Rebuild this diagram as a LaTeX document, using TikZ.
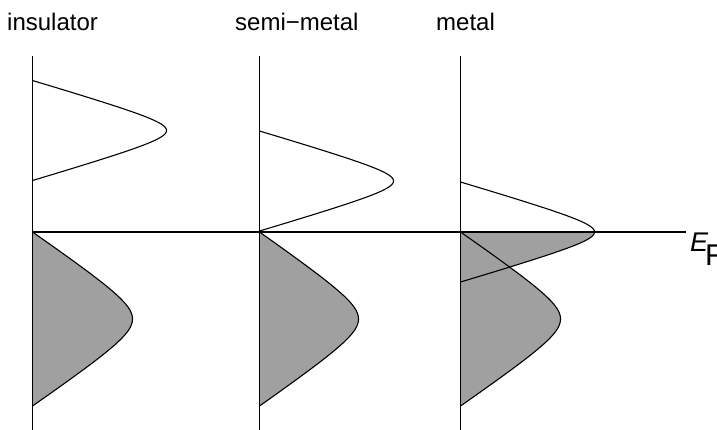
\documentclass[tikz,border=0pt]{standalone}
\usepackage{fontspec}
\setmainfont{Liberation Sans}
\definecolor{bandgray}{RGB}{160,160,160}
% hyperbola-shaped band: nearly straight flanks, rounded tip
\newcommand{\bandplot}[5]{plot[domain=#5,samples=121,variable=\t] ({#1+#4*(1-(sqrt(\t*\t+0.0625)-0.25)/0.78078)},{#2+#3*\t})}
\tikzset{
  axisline/.style={line width=1.1pt, black},
  bandline/.style={line width=1.1pt, black, line join=round},
  bandfill/.style={fill=bandgray},
  lbl/.style={anchor=base west, inner sep=0pt, font=\fontsize{24}{28}\selectfont},
}
\begin{document}
\begin{tikzpicture}[x=1pt,y=-1pt]
\clip (0,0) rectangle (717,429);
% coordinates
\coordinate (iTop) at (32.5,56);
\coordinate (iBot) at (32.5,432);
\coordinate (sTop) at (259.5,56);
\coordinate (sBot) at (259.5,432);
\coordinate (mTop) at (460.5,56);
\coordinate (mBot) at (460.5,432);
\coordinate (efL) at (32.5,232);
\coordinate (efR) at (686,232);
% fills
\fill[bandfill] \bandplot{32.5}{319}{87}{100}{-1:1} -- cycle;
\fill[bandfill] \bandplot{259.5}{319}{87}{99}{-1:1} -- cycle;
\fill[bandfill] \bandplot{460.5}{319}{87}{100}{-1:1} -- cycle;
\fill[bandfill] (460.5,232) -- plot[domain=0:1,samples=61,variable=\t] ({460.5+134*(1-(sqrt(\t*\t+0.0625)-0.25)/0.78078)},{232+50*\t}) -- cycle;
% band curves
\draw[bandline] \bandplot{32.5}{130.5}{50}{134}{-1:1};
\draw[bandline] \bandplot{32.5}{319}{87}{100}{-1:1};
\draw[bandline] \bandplot{259.5}{181}{50}{134}{-1:1};
\draw[bandline] \bandplot{259.5}{319}{87}{99}{-1:1};
\draw[bandline] \bandplot{460.5}{232}{50}{134}{-1:1};
\draw[bandline] \bandplot{460.5}{319}{87}{100}{-1:1};
% axes
\draw[axisline] (iTop) -- (iBot);
\draw[axisline] (sTop) -- (sBot);
\draw[axisline] (mTop) -- (mBot);
\draw[axisline] (efL) -- (efR);
% labels
\node[lbl] (lins) at (7,30) {insulator};
\node[lbl] (lsemi) at (235,30) {semi−metal};
\node[lbl] (lmet) at (436,30) {metal};
\node[anchor=base west, inner sep=0pt, font=\fontsize{27}{30}\selectfont\itshape] (lE) at (690,251) {E};
\node[anchor=base west, inner sep=0pt, font=\fontsize{30}{32}\selectfont] (lF) at (705,265) {F};
\end{tikzpicture}
\end{document}
